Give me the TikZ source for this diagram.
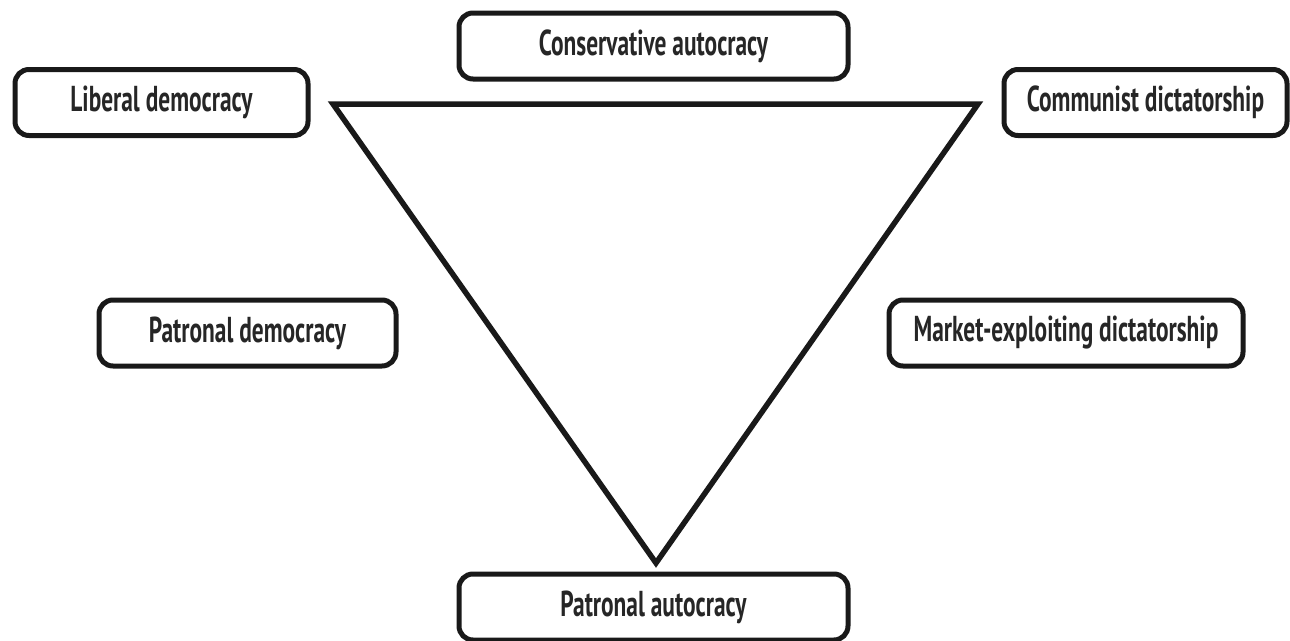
\documentclass[tikz,border=0pt]{standalone}
\usepackage{fontspec}
\newfontfamily\labfont{PT Sans}[FakeStretch=0.65]
\tikzset{
  regime/.style={draw=black!90, line width=5pt, rounded corners=14pt, inner sep=0pt,
    minimum height=66pt, font=\labfont\bfseries\fontsize{36}{40}\selectfont, text=black!85},
  tri/.style={draw=black!90, line width=5.5pt, line join=miter}
}
\begin{document}
\begin{tikzpicture}[x=1pt,y=-1pt]
\useasboundingbox (0,0) rectangle (1290,640);
\node[regime, minimum width=293pt] (lib) at (161.5,102.5) {Liberal democracy};
\node[regime, minimum width=389pt] (con) at (653.5,46) {Conservative autocracy};
\node[regime, minimum width=283pt] (com) at (1145.5,102.5) {Communist dictatorship};
\node[regime, minimum width=297pt] (pdem) at (247.5,333) {Patronal democracy};
\node[regime, minimum width=354pt] (mkt) at (1066,333) {Market-exploiting dictatorship};
\node[regime, minimum width=389pt] (paut) at (653.5,607) {Patronal autocracy};
\coordinate (tl) at (333,104);
\coordinate (tr) at (978,104);
\coordinate (bt) at (656,563);
\draw[tri] (tl) -- (tr) -- (bt) -- cycle;
\end{tikzpicture}
\end{document}
